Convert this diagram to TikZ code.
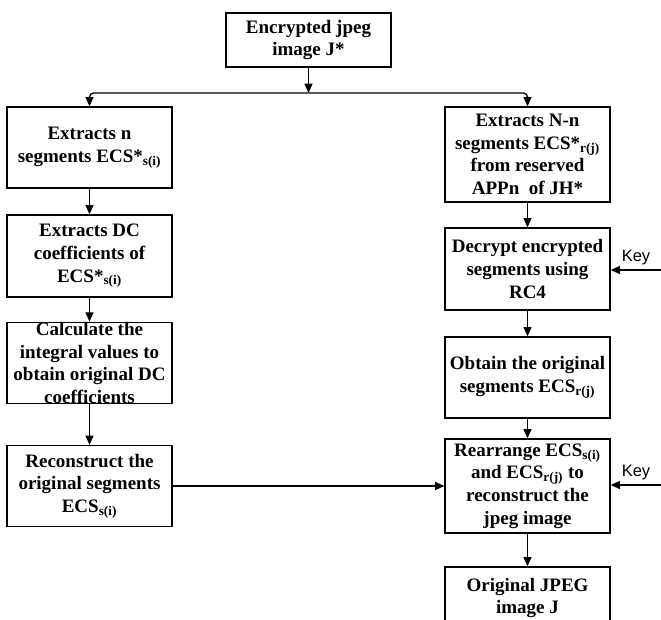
\documentclass[tikz,border=0pt]{standalone}
\usepackage{fontspec}
\setmainfont{Liberation Serif}
\newfontfamily\keyfont{Liberation Sans}
\usepackage{tikz}
\usetikzlibrary{arrows.meta, positioning, calc}
\tikzset{%
    proc/.style={%
        draw, rectangle, line width=1pt, inner sep=0pt,
        minimum width=165*\pxu, align=center,
        font=\bfseries\fontsize{14.25}{17}\selectfont,
    },
    flow/.style={%
        line width=1pt, -{Triangle[length=7pt, width=6pt]},
    },
    keylabel/.style={%
        font=\keyfont\fontsize{12.4}{14}\selectfont, anchor=south, inner sep=2pt,
    },
}
\def\pxu{0.75pt}

\begin{document}
\begin{tikzpicture}[x=0.75pt, y=-0.75pt]
        \useasboundingbox (0,0) rectangle (661,619);

        \def\lcol{89.5}
        \def\rcol{527.5}

        \node[proc, minimum height=54*\pxu] (encrypted) at (308.5,40) {Encrypted jpeg\\image J*};
        \coordinate (split) at (308.5,93);

        % left branch
        \node[proc, minimum height=81*\pxu] (extractn) at (\lcol,147.5) {Extracts n\\segments ECS*\textsubscript{s(i)}};
        \node[proc, minimum height=82*\pxu] (extractdc) at (\lcol,256) {Extracts DC\\coefficients of\\ECS*\textsubscript{s(i)}};
        \node[proc, minimum height=80*\pxu] (integral) at (\lcol,363) {Calculate the\\integral values to\\obtain original DC\\coefficients};
        \node[proc, minimum height=81*\pxu] (reconstruct) at (\lcol,486) {Reconstruct the\\original segments\\ECS\textsubscript{s(i)}};

        % right branch
        \node[proc, minimum height=95*\pxu] (extractnn) at (\rcol,154.5) {Extracts N-n\\segments ECS*\textsubscript{r(j)}\\from reserved\\APPn\ \ of JH*};
        \node[proc, minimum height=82*\pxu] (decrypt) at (\rcol,269) {Decrypt encrypted\\segments using\\RC4};
        \node[proc, minimum height=81*\pxu] (obtain) at (\rcol,377.5) {Obtain the original\\segments ECS\textsubscript{r(j)}};
        \node[proc, minimum height=94*\pxu] (rearrange) at (\rcol,486) {Rearrange ECS\textsubscript{s(i)}\\and ECS\textsubscript{r(j)} to\\reconstruct the\\jpeg image};
        \node[proc, minimum height=62*\pxu] (original) at (\rcol,598) {Original JPEG\\image J};

        % keys
        \coordinate (keyin1) at (661,270);
        \coordinate (keyin2) at (661,485);
        \node[keylabel] (key1) at (636,268) {Key};
        \node[keylabel] (key2) at (636,483) {Key};

        \draw[flow] (encrypted) to (split);
        \draw[flow, rounded corners=3pt] (split) -| (extractn);
        \draw[flow, rounded corners=3pt] (split) -| (extractnn);

        \draw[flow] (extractn) to (extractdc);
        \draw[flow] (extractdc) to (integral);
        \draw[flow] (integral) to (reconstruct);
        \draw[flow] (reconstruct) to (rearrange);

        \draw[flow] (extractnn) to (decrypt);
        \draw[flow] (decrypt) to (obtain);
        \draw[flow] (obtain) to (rearrange);
        \draw[flow] (rearrange) to (original);

        \draw[flow] (keyin1) to (keyin1 -| decrypt.east);
        \draw[flow] (keyin2) to (keyin2 -| rearrange.east);

    \end{tikzpicture}
\end{document}
